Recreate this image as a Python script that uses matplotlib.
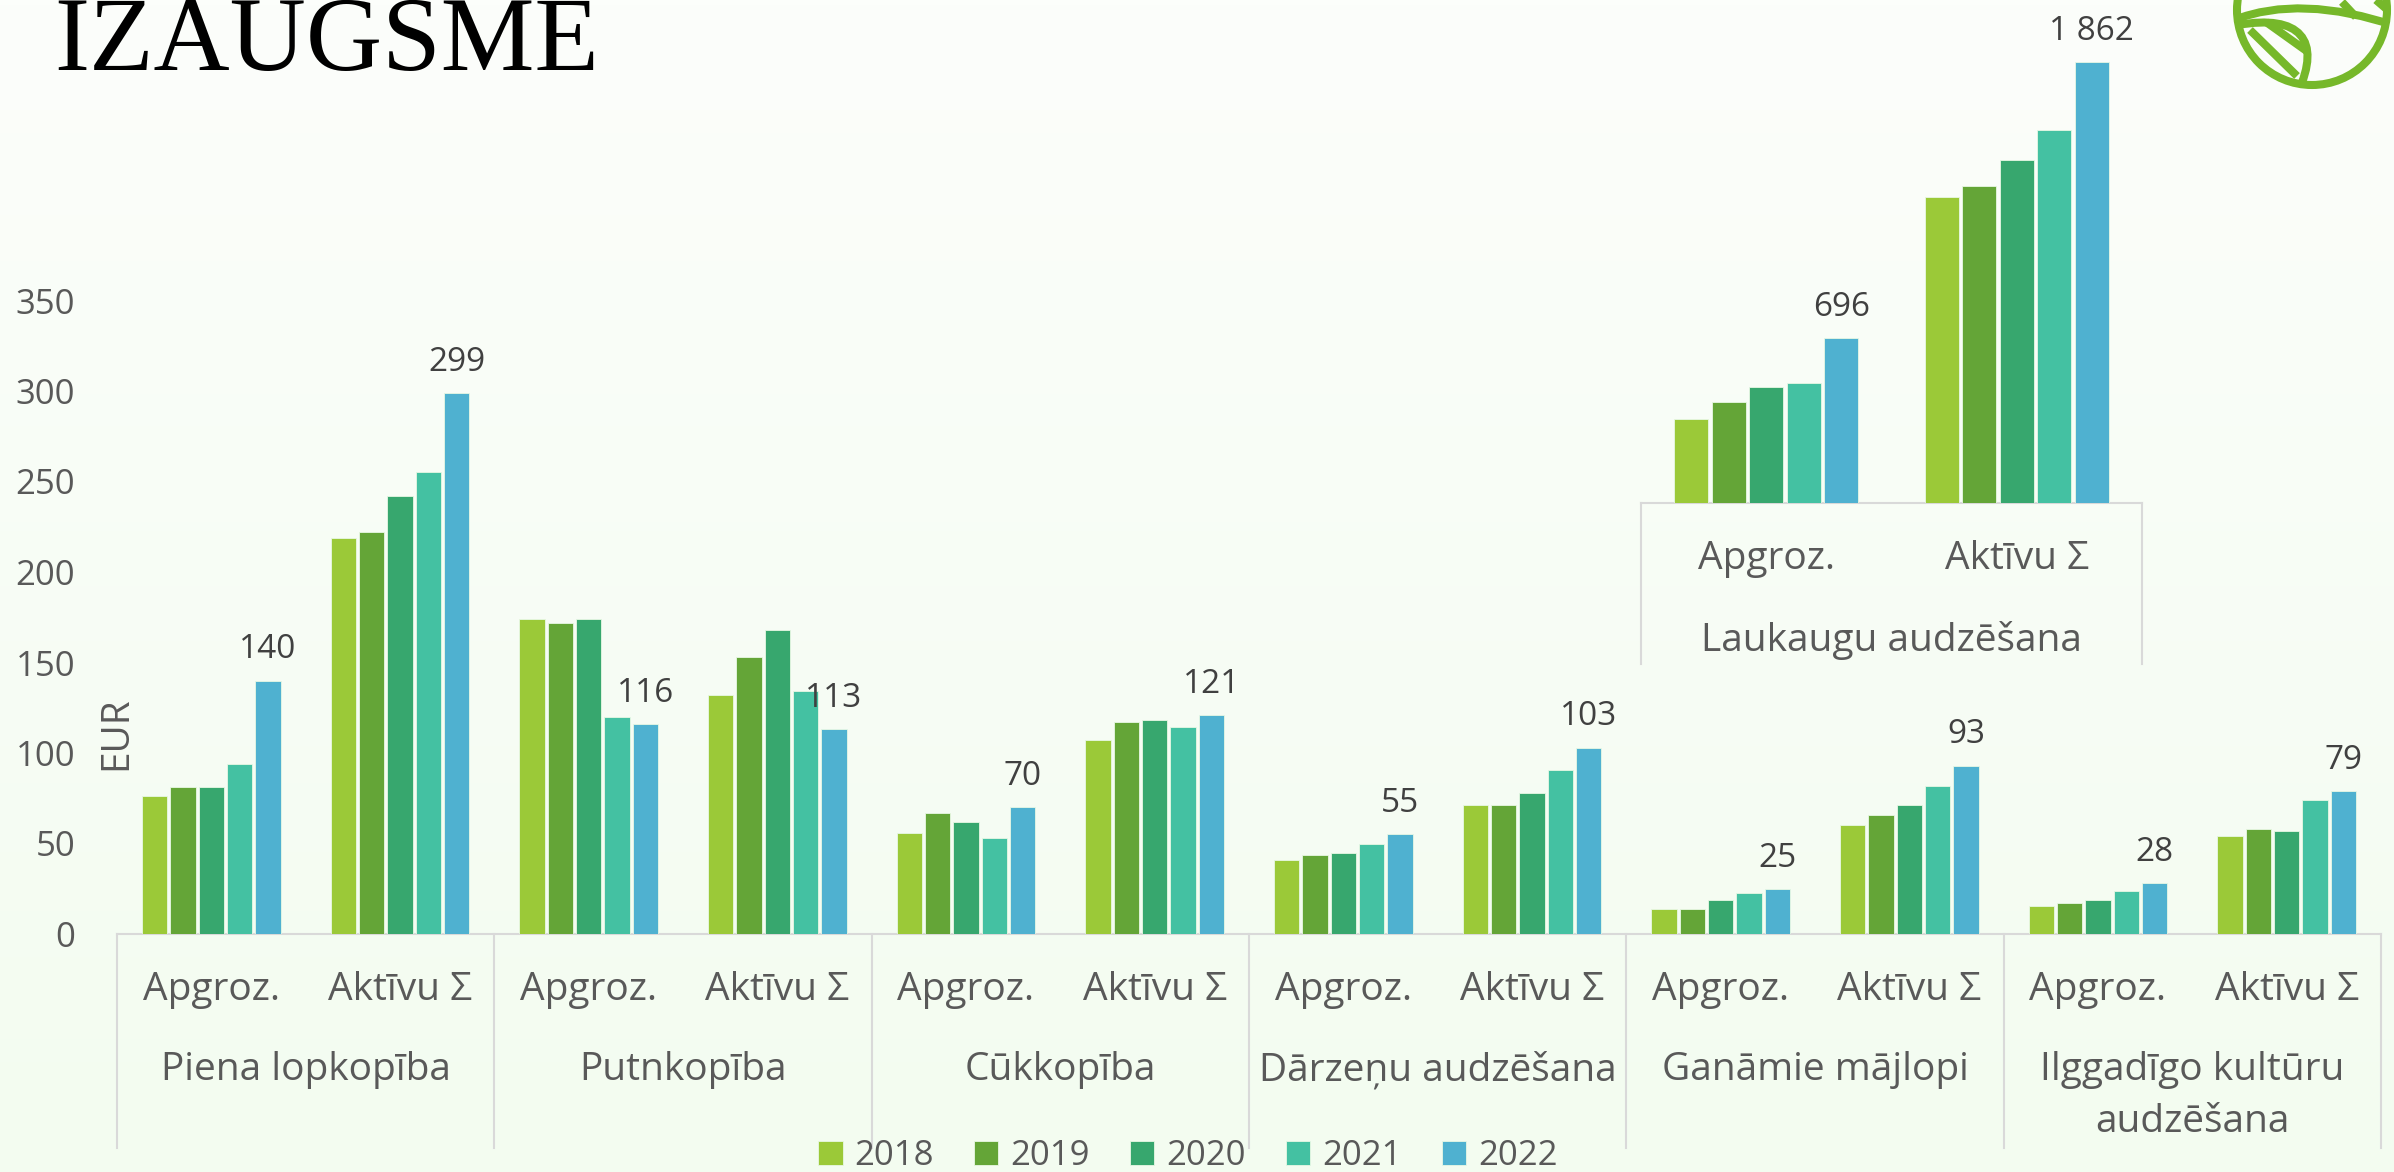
import numpy as np
import matplotlib
matplotlib.use("Agg")
import matplotlib.pyplot as plt
from matplotlib.transforms import blended_transform_factory, IdentityTransform
from matplotlib.patches import Circle, PathPatch
from matplotlib.path import Path
from matplotlib.lines import Line2D

plt.rcParams['font.family'] = ['Open Sans', 'DejaVu Sans']

# ---------------- data ----------------
years = ['2018', '2019', '2020', '2021', '2022']
subs = ['Apgroz.', 'Aktīvu Σ']
groups = ['Piena lopkopība', 'Putnkopība', 'Cūkkopība', 'Dārzeņu audzēšana',
          'Ganāmie mājlopi', 'Ilggadīgo kultūru\naudzēšana']

# 12 slots: (Apgroz., Aktīvu Σ) for every group
v2018 = [76, 219, 174, 132, 56, 107, 41, 71, 14, 60, 15.5, 54]
v2019 = [81, 222, 172, 153, 67, 117, 43.5, 71.5, 14, 66, 17, 58]
v2020 = [81, 242, 174, 168, 62, 118.5, 45, 78, 19, 71.5, 19, 57]
v2021 = [94, 255, 120, 134, 53, 114.5, 50, 90.5, 22.5, 81.5, 23.5, 74]
v2022 = [140, 299, 116, 113, 70, 121, 55, 103, 25, 93, 28, 79]

lauk_group = 'Laukaugu audzēšana'
lauk2018 = [357, 1292]
lauk2019 = [427, 1338]
lauk2020 = [489, 1448]
lauk2021 = [507, 1578]
lauk2022 = [696, 1862]

colors = ['#9BC938', '#64A537', '#37A76E', '#44C1A2', '#4FB1D0']
main_vals = [v2018, v2019, v2020, v2021, v2022]
lauk_vals = [lauk2018, lauk2019, lauk2020, lauk2021, lauk2022]

W, H = 2394, 1172
txt = '#595959'
lab = '#404040'
grid_c = '#D9D9D9'

fig = plt.figure(figsize=(W / 100, H / 100), dpi=100)

# background gradient
bg = fig.add_axes([0, 0, 1, 1], zorder=-10)
top = np.array([252, 254, 251]) / 255
bot = np.array([243, 252, 240]) / 255
t = np.linspace(0, 1, 256)[:, None]
grad = (top * (1 - t) + bot * t)[:, None, :]
bg.imshow(grad, aspect='auto', extent=[0, 1, 0, 1])
bg.axis('off')


def fmt(v):
    return '{:,}'.format(int(round(v))).replace(',', ' ')


def draw_bars(ax, vals, nslots, axh):
    x = np.arange(nslots)
    conts = []
    for i, (vv, c) in enumerate(zip(vals, colors)):
        b = ax.bar(x + (i - 2) * 0.15, vv, width=0.135, color=c,
                   edgecolor='#E8F8E4', linewidth=0.6, zorder=3)
        conts.append(b)
    # labels on last year
    for xi, v in zip(x, vals[-1]):
        ax.annotate(fmt(v), (xi + 2 * 0.15, v), xytext=(0, 16),
                    textcoords='offset points', ha='center', va='baseline',
                    fontsize=24, color=lab)
    ax.set_xlim(-0.5, nslots - 0.5)
    for s in ['top', 'right', 'left']:
        ax.spines[s].set_visible(False)
    ax.spines['bottom'].set_color(grid_c)
    ax.spines['bottom'].set_linewidth(1.5)
    ax.set_xticks([])
    ax.patch.set_alpha(0)
    return conts


# ---------------- main axes ----------------
base_px = 934
main_top = 360
main_axh = main_top * 1.81
ax = fig.add_axes([117 / W, (H - base_px) / H, 2264 / W, main_axh / H], zorder=1)
ax.set_ylim(0, main_top)
conts = draw_bars(ax, main_vals, 12, main_axh)
ax.set_yticks(range(0, 351, 50))
ax.tick_params(axis='y', length=0, pad=30, labelsize=25, labelcolor=txt)

tr = blended_transform_factory(ax.transData, ax.transAxes)
for k in range(12):
    ax.text(k, -56 / main_axh, subs[k % 2], transform=tr, ha='center',
            va='center', fontsize=28, color=txt)
for g, name in enumerate(groups):
    for j, line in enumerate(name.split('\n')):
        ax.text(2 * g + 0.5, -(136 + 52 * j) / main_axh, line, transform=tr,
                ha='center', va='center', fontsize=28, color=txt)
for xb in np.arange(-0.5, 12, 2):
    ax.plot([xb, xb], [0, -214 / main_axh], transform=tr, clip_on=False,
            color=grid_c, lw=1.5)

fig.text(116 / W, 1 - 733 / H, 'EUR', rotation=90, ha='center', va='center',
         fontsize=28, color=txt)

# ---------------- inset: Laukaugu audzēšana ----------------
in_base = 503
in_top = 2000
in_axh = in_top / 4.226
ax2 = fig.add_axes([1641 / W, (H - in_base) / H, 501 / W, in_axh / H], zorder=2)
ax2.set_ylim(0, in_top)
draw_bars(ax2, lauk_vals, 2, in_axh)
ax2.set_yticks([])
tr2 = blended_transform_factory(ax2.transData, ax2.transAxes)
for k in range(2):
    ax2.text(k, -56 / in_axh, subs[k], transform=tr2, ha='center',
             va='center', fontsize=28, color=txt)
ax2.text(0.5, -137 / in_axh, lauk_group, transform=tr2, ha='center',
         va='center', fontsize=28, color=txt)
for xb in [-0.5, 1.5]:
    ax2.plot([xb, xb], [0, -161 / in_axh], transform=tr2, clip_on=False,
             color=grid_c, lw=1.5)

# ---------------- legend ----------------
fig.legend([c for c in conts], years, loc='center',
           bbox_to_anchor=(1188 / W, 1 - 1156 / H), ncol=5, frameon=False,
           fontsize=25, labelcolor=txt, handlelength=0.7, handleheight=0.7,
           handletextpad=0.35, columnspacing=1.15)

# ---------------- title ----------------
fig.text(54 / W, 1 - 70 / H, 'IZAUGSME', family='Liberation Serif',
         fontsize=76, color='black', ha='left', va='baseline')

# ---------------- logo (top right) ----------------
logo_c = '#76B82A'
idt = IdentityTransform()
cx, cy = 2312, H - 10
ring = Circle((cx, cy), 75, fill=False, lw=5.8, ec=logo_c, transform=idt)
fig.add_artist(ring)
clip = Circle((cx, cy), 78, transform=idt)


def P(x, y):
    return (x, H - y)


strand1 = Path([P(2234, 20), P(2300, -6), P(2396, 26)],
               [Path.MOVETO, Path.CURVE3, Path.CURVE3])
strand2 = Path([P(2238, 25), P(2300, 14), P(2322, 40), P(2298, 92)],
               [Path.MOVETO, Path.CURVE4, Path.CURVE4, Path.CURVE4])
for pth in [strand1, strand2]:
    pp = PathPatch(pth, fill=False, lw=5.8, ec=logo_c, transform=idt)
    pp.set_clip_path(clip)
    fig.add_artist(pp)
rungs = [((2250, 30), (2297, 76)), ((2266, 22), (2308, 52)),
         ((2342, 2), (2356, 17)), ((2376, 0), (2390, 12))]
for (x0, y0), (x1, y1) in rungs:
    ln = Line2D([x0, x1], [H - y0, H - y1], lw=5.8, color=logo_c,
                transform=idt, solid_capstyle='butt')
    ln.set_clip_path(clip)
    fig.add_artist(ln)

fig.savefig('out.png', dpi=100)
